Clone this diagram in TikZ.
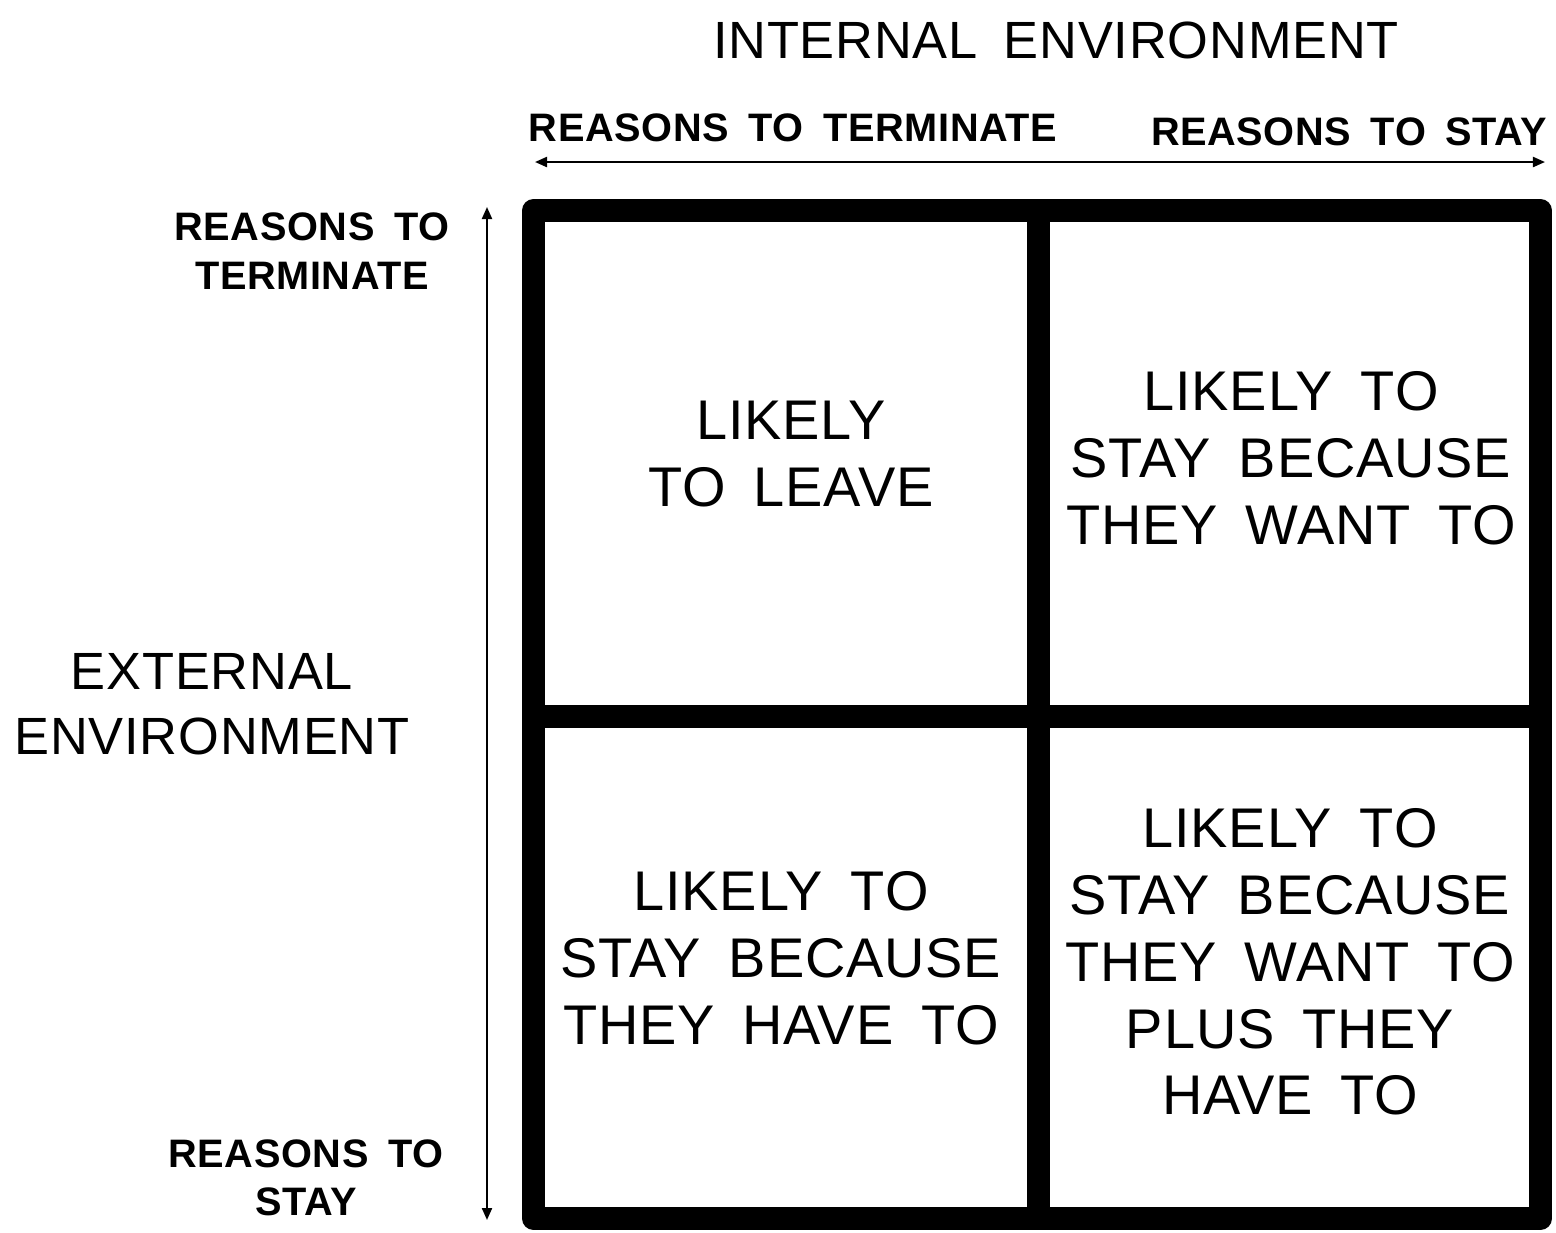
\documentclass[tikz,border=0pt]{standalone}
\usepackage{fontspec}
\setmainfont{Liberation Sans}[WordSpace=1.7, LetterSpace=1.5]
\usetikzlibrary{arrows.meta}

\tikzset{
    cell/.style={font=\fontsize{15.9}{19}\selectfont, align=center},
    head/.style={font=\fontsize{14.9}{18.5}\selectfont, align=center},
    reason/.style={font=\bfseries\fontsize{11.3}{13.8}\selectfont, align=center},
    frame/.style={line width=0.23cm, line join=round},
    axis/.style={{Triangle[length=1.2mm,width=1mm]}-{Triangle[length=1.2mm,width=1mm]}, line width=0.6pt},
}

\begin{document}
\begin{tikzpicture}[x=0.01cm, y=-0.01cm]
            \useasboundingbox (0, 0) rectangle (1556, 1232);
            % the 2x2 grid
            \draw[frame] (533.5, 210.5) rectangle (1540.5, 1218.5);
            \draw[frame] (1038.5, 210.5) -- (1038.5, 1218.5);
            \draw[frame] (533.5, 716) -- (1540.5, 716);
            % internal axis
            \node[head] (internal) at (1056, 40) {INTERNAL ENVIRONMENT};
            \node[reason] (interm) at (793, 128) {REASONS TO TERMINATE};
            \node[reason] (instay) at (1349, 132) {REASONS TO STAY};
            \coordinate (inleft) at (535, 162);
            \coordinate (inright) at (1545, 162);
            \draw[axis] (inleft) -- (inright);
            % external axis
            \node[head] (external) at (212, 704) {EXTERNAL\\ENVIRONMENT};
            \node[reason] (exterm) at (312, 251) {REASONS TO\\TERMINATE};
            \node[reason] (exstay) at (306, 1178) {REASONS TO\\STAY};
            \coordinate (extop) at (487, 207);
            \coordinate (exbottom) at (487, 1220);
            \draw[axis] (extop) -- (exbottom);
            % quadrants
            \node[cell] (leave) at (791, 454) {LIKELY\\TO LEAVE};
            \node[cell] (want) at (1291, 458) {LIKELY TO\\STAY BECAUSE\\THEY WANT TO};
            \node[cell] (have) at (781, 958) {LIKELY TO\\STAY BECAUSE\\THEY HAVE TO};
            \node[cell] (both) at (1290, 962) {LIKELY TO\\STAY BECAUSE\\THEY WANT TO\\PLUS THEY\\HAVE TO};
        \end{tikzpicture}
\end{document}
